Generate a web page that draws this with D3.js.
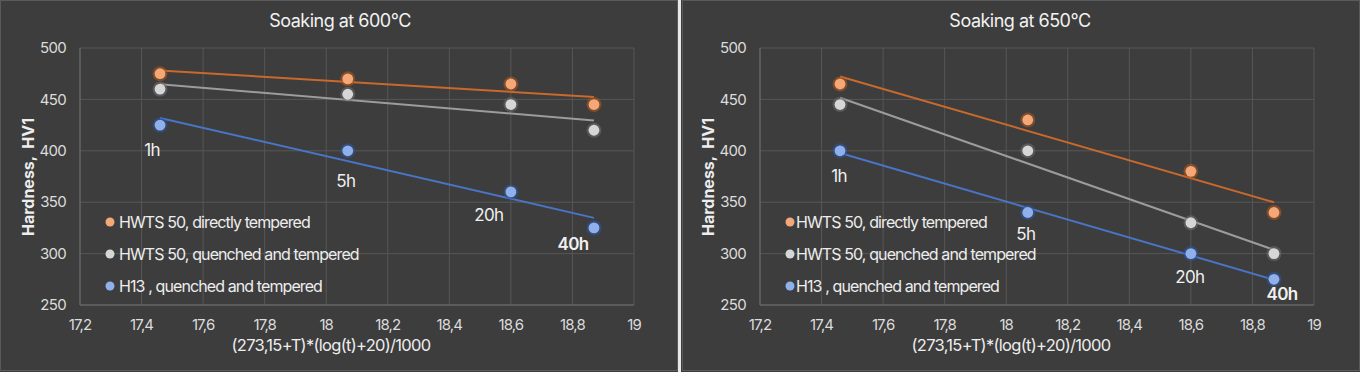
<!DOCTYPE html>
<html>
<head>
<meta charset="utf-8">
<script src="https://cdn.jsdelivr.net/npm/d3@7"></script>
<style>
  body { margin: 0; background: #3d3d3d; }
  svg { display: block; font-family: Inter, "Noto Sans", sans-serif; }
</style>
</head>
<body>
<script>
// data
const xTicks = [17.2, 17.4, 17.6, 17.8, 18, 18.2, 18.4, 18.6, 18.8, 19];
const yTicks = [250, 300, 350, 400, 450, 500];
const seriesNames = ["HWTS 50, directly tempered", "HWTS 50, quenched and tempered", "H13 , quenched and tempered"];
const timeLabels = ["1h", "5h", "20h", "40h"];
const titles = ["Soaking at 600°C", "Soaking at 650°C"];

const lmp600 = [17.46, 18.07, 18.6, 18.87];
const hwtsDirect600 = [475, 470, 465, 445];
const hwtsQT600 = [460, 455, 445, 420];
const h13QT600 = [425, 400, 360, 325];

const lmp650 = [17.46, 18.07, 18.6, 18.87];
const hwtsDirect650 = [465, 430, 380, 340];
const hwtsQT650 = [445, 400, 330, 300];
const h13QT650 = [400, 340, 300, 275];

const panels = [
  { title: titles[0], x: lmp600, series: [hwtsDirect600, hwtsQT600, h13QT600] },
  { title: titles[1], x: lmp650, series: [hwtsDirect650, hwtsQT650, h13QT650] }
];

// layout / style
const W = 1360, H = 372;
const panelW = 680;
const lineColors = ["#c9692c", "#9c9c9c", "#4a74c6"];
const dotColors = ["#f5a877", "#d6d6d6", "#8fb0ea"];
const glowColors = ["#b5591c", "#6f6f6f", "#2e57a8"];
// pixel offsets (centre x, baseline y) of the hour labels from the blue points
const labelOffsets = [
  [[-8, 31], [-2, 36], [-22, 29], [-21, 22]],
  [[-1, 31], [-2, 28], [-1, 29], [8, 21]]
];
const legendX = [110, 110];
const legendTextX = [119, 116];
const legendY = [222, 254, 286];

const svg = d3.select('body').append('svg')
  .attr('width', W)
  .attr('height', H);

svg.append('rect').attr('width', W).attr('height', H).attr('fill', '#3d3d3d');

const fmt = v => String(v).replace('.', ',');

function regression(xs, ys) {
  const mx = d3.mean(xs), my = d3.mean(ys);
  const sxy = d3.sum(xs, (x, i) => (x - mx) * (ys[i] - my));
  const sxx = d3.sum(xs, x => (x - mx) * (x - mx));
  const b = sxy / sxx;
  return x => my + b * (x - mx);
}

panels.forEach((p, pi) => {
  const g = svg.append('g').attr('transform', `translate(${pi * panelW},0)`);

  // panel frame
  g.append('rect')
    .attr('x', pi === 0 ? 0.5 : 2.5).attr('y', 0.5)
    .attr('width', panelW - 3).attr('height', H - 2)
    .attr('fill', 'none').attr('stroke', '#5a5a5a');

  const x = d3.scaleLinear().domain([17.2, 19]).range([80, 634]);
  const y = d3.scaleLinear().domain([250, 500]).range([305, 48]);

  // grid
  g.selectAll('.vgrid').data(xTicks).enter().append('line')
    .attr('x1', d => x(d)).attr('x2', d => x(d))
    .attr('y1', y(500)).attr('y2', y(250))
    .attr('stroke', '#575757').attr('stroke-width', 1);
  g.selectAll('.hgrid').data(yTicks).enter().append('line')
    .attr('x1', x(17.2)).attr('x2', x(19))
    .attr('y1', d => y(d)).attr('y2', d => y(d))
    .attr('stroke', '#575757').attr('stroke-width', 1);
  g.append('line').attr('x1', x(17.2)).attr('x2', x(17.2)).attr('y1', y(500)).attr('y2', y(250))
    .attr('stroke', '#6e6e6e');
  g.append('line').attr('x1', x(17.2)).attr('x2', x(19)).attr('y1', y(250)).attr('y2', y(250))
    .attr('stroke', '#6e6e6e');

  // tick labels
  g.selectAll('.yt').data(yTicks).enter().append('text')
    .attr('x', 66).attr('y', d => y(d)).attr('dy', '0.35em')
    .attr('text-anchor', 'end').attr('font-size', 15).attr('letter-spacing', -0.7)
    .attr('fill', '#dcdcdc').text(d => d);
  g.selectAll('.xt').data(xTicks).enter().append('text')
    .attr('x', d => x(d)).attr('y', 325).attr('dy', '0.35em')
    .attr('text-anchor', 'middle').attr('font-size', 15).attr('letter-spacing', -0.9)
    .attr('fill', '#dcdcdc').text(d => fmt(d));

  // titles
  g.append('text').attr('x', 340).attr('y', 21).attr('dy', '0.35em')
    .attr('text-anchor', 'middle').attr('font-size', 18).attr('letter-spacing', -0.5)
    .attr('fill', '#f2f2f2').text(p.title);
  g.append('text').attr('x', 331).attr('y', 345).attr('dy', '0.35em')
    .attr('text-anchor', 'middle').attr('font-size', 16.5).attr('letter-spacing', -0.7)
    .attr('fill', '#ededed').text('(273,15+T)*(log(t)+20)/1000');
  g.append('text')
    .attr('transform', 'translate(28,177) rotate(-90)').attr('dy', '0.35em')
    .attr('text-anchor', 'middle').attr('font-size', 16).attr('font-weight', 700)
    .attr('fill', '#ededed').attr('xml:space', 'preserve').text('Hardness,  HV1');

  // trend lines
  p.series.forEach((s, si) => {
    const f = regression(p.x, s);
    const x0 = d3.min(p.x), x1 = d3.max(p.x);
    g.append('line')
      .attr('x1', x(x0)).attr('y1', y(f(x0)))
      .attr('x2', x(x1)).attr('y2', y(f(x1)))
      .attr('stroke', lineColors[si]).attr('stroke-width', 2);
  });

  // points
  p.series.forEach((s, si) => {
    const pts = g.append('g');
    pts.selectAll('.glow').data(s).enter().append('circle')
      .attr('cx', (d, i) => x(p.x[i])).attr('cy', d => y(d)).attr('r', 7.5)
      .attr('fill', glowColors[si]).attr('opacity', 0.55);
    pts.selectAll('.dot').data(s).enter().append('circle')
      .attr('cx', (d, i) => x(p.x[i])).attr('cy', d => y(d)).attr('r', 5.4)
      .attr('fill', dotColors[si]);
  });

  // hour labels near H13 points
  const h13 = p.series[2];
  g.selectAll('.hl').data(timeLabels).enter().append('text')
    .attr('x', (d, i) => x(p.x[i]) + labelOffsets[pi][i][0])
    .attr('y', (d, i) => y(h13[i]) + labelOffsets[pi][i][1])
    .attr('text-anchor', 'middle').attr('font-size', 17).attr('letter-spacing', -0.6)
    .attr('font-weight', d => d === '40h' ? 600 : 400)
    .attr('fill', '#f0f0f0').text(d => d);

  // legend
  seriesNames.forEach((name, si) => {
    g.append('circle').attr('cx', legendX[pi]).attr('cy', legendY[si]).attr('r', 4.5)
      .attr('fill', dotColors[si]);
    g.append('text').attr('x', legendTextX[pi]).attr('y', legendY[si]).attr('dy', '0.35em')
      .attr('font-size', 16).attr('letter-spacing', -0.9)
      .attr('fill', '#ededed').text(name);
  });
});

// separator between the two panels
svg.append('rect').attr('x', 678).attr('y', 0).attr('width', 3).attr('height', H).attr('fill', '#e8e8e8');
</script>
</body>
</html>
